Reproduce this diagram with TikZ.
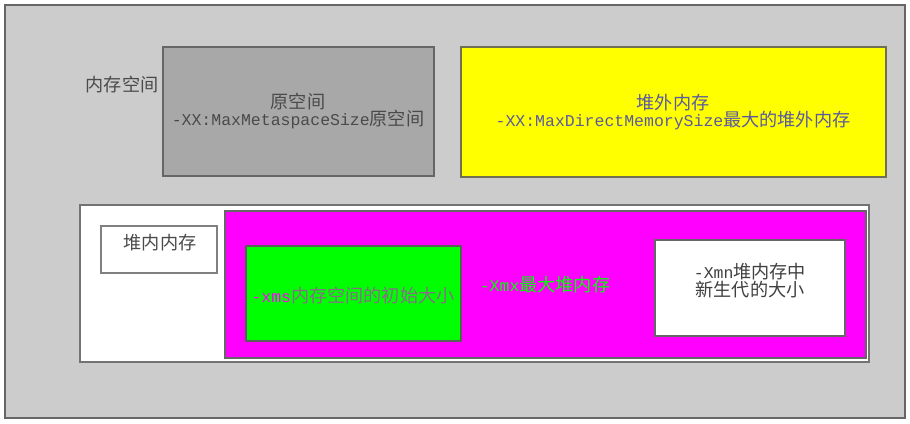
\documentclass[tikz,border=0pt]{standalone}
\usepackage{fontspec}
\setmainfont{Liberation Mono}
\newfontfamily\cjkfont{Noto Sans CJK SC}[Scale=1.1]
\newcommand\cj[1]{{\cjkfont #1}}
\definecolor{outerfill}{HTML}{CCCCCC}
\definecolor{metafill}{HTML}{A8A8A8}
\definecolor{bordergray}{HTML}{666666}
\definecolor{metatext}{HTML}{4A4A4A}
\definecolor{yelborder}{HTML}{707050}
\definecolor{yelfill}{HTML}{FFFF00}
\definecolor{yeltext}{HTML}{5A5AA0}
\definecolor{xmstext}{HTML}{8A6A8A}
\definecolor{mmagenta}{HTML}{FF00FF}
\definecolor{mgreen}{HTML}{00FF00}
\begin{document}
\begin{tikzpicture}[x=1pt,y=-1pt,
  box/.style={draw=bordergray,line width=1.5pt},
  txt/.style={font=\fontsize{16.5}{13}\selectfont,align=center,inner sep=0pt}]
\useasboundingbox (0,0) rectangle (910,423);
\fill[white] (0,0) rectangle (910,423);
\draw[box,fill=outerfill] (5,5) rectangle (905,418);
\node[txt,text=metatext] (memlabel) at (122,85) {\cj{内存空间}};
% metaspace
\draw[box,fill=metafill] (163,47) rectangle (434,176);
\node[txt,text=metatext] (meta) at (298,111) {\cj{原空间}\\-XX:MaxMetaspaceSize\cj{原空间}};
% direct memory
\draw[box,draw=yelborder,fill=yelfill] (461,47) rectangle (886,177);
\node[txt,text=yeltext] (direct) at (673,112) {\cj{堆外内存}\\-XX:MaxDirectMemorySize\cj{最大的堆外内存}};
% heap
\draw[box,draw=gray!110,fill=white] (80,205) rectangle (869,362);
\draw[box,draw=gray,fill=white] (101,226) rectangle (217,273);
\node[txt,text=metatext] (heaplabel) at (160,243) {\cj{堆内内存}};
\draw[box,fill=mmagenta] (225,211) rectangle (866,358);
\draw[box,draw=bordergray!90!black,fill=mgreen] (246,246) rectangle (461,341);
\node[txt] (xms) at (353,296) {\textcolor{mmagenta}{-xms}\textcolor{xmstext}{\cj{内存空间的初始大小}}};
\node[txt,text=mgreen] (xmx) at (545,285) {-Xmx\cj{最大堆内存}};
\draw[box,fill=white] (655,240) rectangle (845,336);
\node[txt,text=black!75,font=\fontsize{16.5}{12}\selectfont] (xmn) at (750,281) {-Xmn\cj{堆内存中}\\\cj{新生代的大小}};
\end{tikzpicture}
\end{document}
